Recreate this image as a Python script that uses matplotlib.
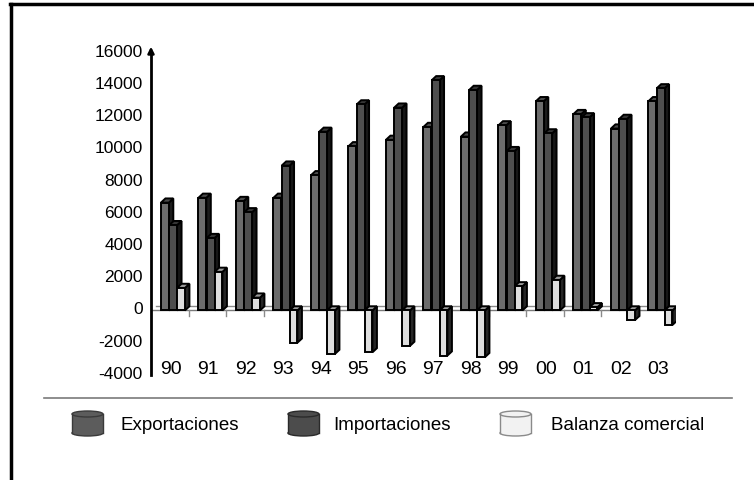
import numpy as np
import matplotlib
matplotlib.use("Agg")
import matplotlib.pyplot as plt
from matplotlib.patches import Polygon, Rectangle, Ellipse
from matplotlib.lines import Line2D
from matplotlib.transforms import ScaledTranslation

plt.rcParams['font.family'] = ['Liberation Sans', 'DejaVu Sans']

# datos (millones)
anios = ['90', '91', '92', '93', '94', '95', '96', '97', '98', '99', '00', '01', '02', '03']
exportaciones = [6700, 7000, 6800, 7000, 8400, 10200, 10600, 11400, 10800, 11500, 13000, 12200, 11300, 13000]
importaciones = [5300, 4500, 6100, 9000, 11100, 12800, 12600, 14300, 13700, 9900, 11000, 12000, 11900, 13800]
balanza = [1400, 2400, 800, -2000, -2700, -2600, -2200, -2800, -2900, 1500, 1900, 200, -600, -900]
series = ['Exportaciones', 'Importaciones', 'Balanza comercial']

# estilo de cada serie: frente, lado, tapa
estilos = [
    ('#6c6c6c', '#1c1c1c', '#4a4a4a'),
    ('#4e4e4e', '#161616', '#353535'),
    ('#dedede', '#262626', '#9a9a9a'),
]
desplaz = [-0.13, 0.09, 0.30]
ancho = 0.21
dx, dy = 0.12, 260   # profundidad del efecto 3D

fig = plt.figure(figsize=(7.54, 4.8), dpi=100)
ax = fig.add_axes([151 / 754, 0.219, 525 / 754, 0.6708])
ax.set_xlim(-0.5, 13.5)
ax.set_ylim(-4000, 16000)

x = np.arange(len(anios))

# fondo: linea del piso y linea frontal con marcas
ax.plot([-0.5 + dx, 13.5 + dx], [dy, dy], color='#8a8a8a', lw=1, zorder=1)
ax.plot([-0.5, 13.5], [0, 0], color='#7a7a7a', lw=1, zorder=1)
for b in np.arange(0.5, 13.6, 1.0):
    ax.plot([b, b], [0, -330], color='#8a8a8a', lw=1, zorder=1)


def barra3d(ax, xc, h, estilo, z):
    frente, lado, tapa = estilo
    x0, x1 = xc - ancho / 2, xc + ancho / 2
    ax.bar(xc, h, width=ancho, color=frente, edgecolor='black', lw=1.4, zorder=z + 0.2)
    top = max(h, 0)
    low = min(h, 0)
    side = [(x1, low), (x1 + dx, low + dy), (x1 + dx, top + dy), (x1, top)]
    cap = [(x0, top), (x0 + dx, top + dy), (x1 + dx, top + dy), (x1, top)]
    ax.add_patch(Polygon(side, closed=True, fc=lado, ec='black', lw=1.4, zorder=z))
    ax.add_patch(Polygon(cap, closed=True, fc=tapa, ec='black', lw=1.4, zorder=z + 0.1))


valores = [exportaciones, importaciones, balanza]
for i in range(len(anios)):
    for k in range(3):
        barra3d(ax, x[i] + desplaz[k], valores[k][i], estilos[k], 2 + i * 3 + k)

# etiquetas de los anios dentro del grafico
for i, a in enumerate(anios):
    ax.text(x[i] + 0.03, -3680, a, ha='center', va='center', fontsize=14, zorder=60)

for s in ['top', 'right', 'bottom']:
    ax.spines[s].set_visible(False)
ax.spines['left'].set_linewidth(2)
ax.spines['left'].set_zorder(70)
ax.set_xticks([])
ax.set_yticks(range(-4000, 16001, 2000))
ax.set_yticklabels([str(v) for v in range(-4000, 16001, 2000)], fontsize=12.5)
ax.tick_params(axis='y', length=0, pad=6)
for lbl in ax.get_yticklabels():
    lbl.set_transform(lbl.get_transform() + ScaledTranslation(0, 2 / 100, fig.dpi_scale_trans))
ax.annotate('', xy=(0, 1 + 9 / 322), xytext=(0, 0.99), xycoords='axes fraction',
            arrowprops=dict(arrowstyle='-|>', color='black', lw=1.8, mutation_scale=9),
            annotation_clip=False)

# marco exterior (arriba e izquierda)
fig.add_artist(Line2D([10 / 754, 1], [1 - 3.5 / 480, 1 - 3.5 / 480], color='black', lw=2.5))
fig.add_artist(Line2D([10.5 / 754, 10.5 / 754], [0, 1 - 3.5 / 480], color='black', lw=2.5))

# separador de la leyenda
fig.add_artist(Line2D([44 / 754, 732 / 754], [1 - 397.5 / 480] * 2, color='#7a7a7a', lw=1.2))

# leyenda con cilindros
leg_x = [72, 288, 500]
txt_x = [121, 333, 551]
cil_col = [('#5c5c5c', '#3a3a3a'), ('#4c4c4c', '#2a2a2a'), ('#f2f2f2', '#8a8a8a')]
lax = fig.add_axes([0, 0, 1, 1], zorder=-1)
lax.set_xlim(0, 754)
lax.set_ylim(480, 0)
lax.axis('off')
for k in range(3):
    x0, w = leg_x[k], 31
    y0, y1 = 414, 433
    fc, ec = cil_col[k]
    lax.add_patch(Ellipse((x0 + w / 2, y1), w, 6, fc=fc, ec=ec, lw=1))
    lax.add_patch(Rectangle((x0, y0), w, y1 - y0, fc=fc, ec='none'))
    lax.plot([x0, x0], [y0, y1], color=ec, lw=1)
    lax.plot([x0 + w, x0 + w], [y0, y1], color=ec, lw=1)
    lax.add_patch(Ellipse((x0 + w / 2, y0), w, 6, fc=fc, ec=ec, lw=1))
    lax.text(txt_x[k], 425, series[k], fontsize=13.5, ha='left', va='center')

fig.savefig('out.png', dpi=100)
